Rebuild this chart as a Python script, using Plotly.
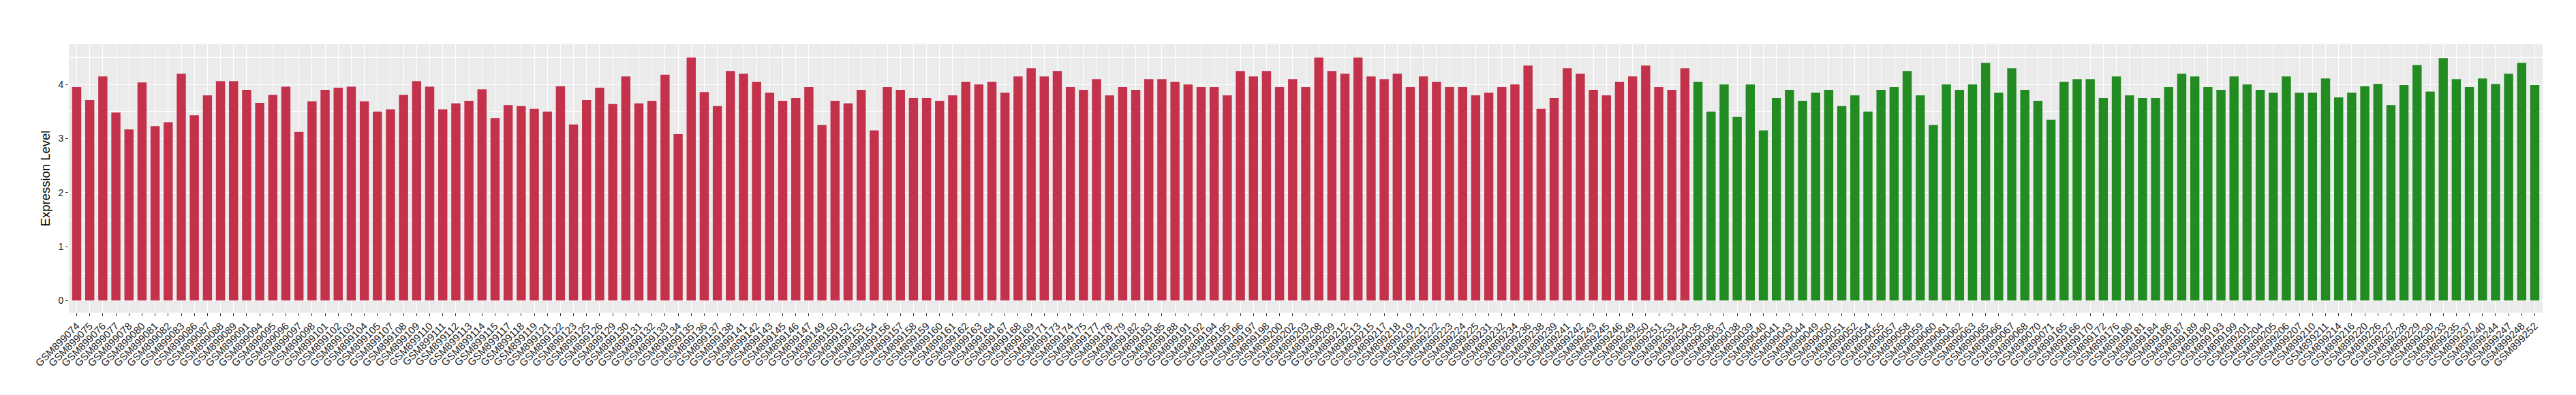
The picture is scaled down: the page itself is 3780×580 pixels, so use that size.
import plotly.graph_objects as go

red_labels = ["GSM8990" + s for s in [
    "74","75","76","77","78","80","81","82","83","86","87","88","89","91","94","95","96","97","98"]] + ["GSM899" + s for s in [
    "101","102","103","104","105","107","108","109","110","111","112","113","114","115","117","118","119","121","122","123",
    "125","126","129","130","131","132","133","134","135","136","137","138","141","142","143","145","146","147","149","150",
    "152","153","154","156","157","158","159","160","161","162","163","164","167","168","169","171","173","174","175",
    "177","178","179","182","183","185","188","191","192","194","195","196","197","198","200","202","203","208","209","212",
    "213","215","217","218","219","221","222","223","224","225","231","232","234","236","238","239","241","242","243","245",
    "246","249","250","251","253","254"]]

red_values = [
    3.95, 3.71, 4.15, 3.48, 3.17, 4.04, 3.23, 3.30, 4.20, 3.43,
    3.80, 4.06, 4.06, 3.90, 3.66, 3.81, 3.96, 3.12, 3.69, 3.90,
    3.94, 3.96, 3.69, 3.50, 3.54, 3.81, 4.06, 3.96, 3.54, 3.65,
    3.70, 3.91, 3.38, 3.62, 3.60, 3.55, 3.50, 3.97, 3.26, 3.71,
    3.94, 3.64, 4.15, 3.65, 3.70, 4.18, 3.08, 4.50, 3.86, 3.60,
    4.25, 4.20, 4.05, 3.85, 3.70, 3.75, 3.95, 3.25, 3.70, 3.65,
    3.90, 3.15, 3.95, 3.90, 3.75, 3.75, 3.70, 3.80, 4.05, 4.00,
    4.05, 3.85, 4.15, 4.30, 4.15, 4.25, 3.95, 3.90, 4.10, 3.80,
    3.95, 3.90, 4.10, 4.10, 4.05, 4.00, 3.95, 3.95, 3.80, 4.25,
    4.15, 4.25, 3.95, 4.10, 3.95, 4.50, 4.25, 4.20, 4.50, 4.15,
    4.10, 4.20, 3.95, 4.15, 4.05, 3.95, 3.95, 3.80, 3.85, 3.95,
    4.00, 4.35, 3.55, 3.75, 4.30, 4.20, 3.90, 3.80, 4.05, 4.15,
    4.35, 3.95, 3.90, 4.30]

green_labels = ["GSM8990" + s for s in [
    "35","36","37","38","39","40","41","43","44","49","50","51","52","54",
    "55","57","58","59","60","61","62","63","65","66","67","68","70","71"]] + ["GSM899" + s for s in [
    "165","166","170","172","176","180",
    "181","184","186","187","189","190","193","199","201","204","205","206","207","210","211",
    "214","216","220","226","227","228","229","230","233","235","237","240","244","247","248","252"]]

green_values = [
    4.05, 3.50, 4.00, 3.40, 4.00, 3.15, 3.75, 3.90, 3.70, 3.85,
    3.90, 3.60, 3.80, 3.50, 3.90, 3.95, 4.25, 3.80, 3.25, 4.00,
    3.90, 4.00, 4.40, 3.85, 4.30, 3.90, 3.70, 3.35, 4.05, 4.10,
    4.10, 3.75, 4.15, 3.80, 3.75, 3.75, 3.95, 4.20, 4.15, 3.95,
    3.90, 4.15, 4.00, 3.90, 3.85, 4.15, 3.85, 3.85,
    4.11, 3.76, 3.85, 3.97, 4.01, 3.62, 3.99, 4.36, 3.87, 4.49,
    4.10, 3.95, 4.11, 4.01, 4.20, 4.40, 3.99]

y_ticks = [0, 1, 2, 3, 4]

RED = "#C3314A"
GREEN = "#228B22"
FONT = "Liberation Sans, Arial, Helvetica, sans-serif"

all_labels = red_labels + green_labels

fig = go.Figure()
fig.add_trace(go.Bar(x=red_labels, y=red_values, marker=dict(color=RED, line=dict(width=0)),
                     showlegend=False, name="red"))
fig.add_trace(go.Bar(x=green_labels, y=green_values, marker=dict(color=GREEN, line=dict(width=0)),
                     showlegend=False, name="green"))

fig.update_layout(
    width=3780, height=580,
    margin=dict(l=93, r=57, t=57, b=129, pad=0),
    paper_bgcolor="white", plot_bgcolor="#EBEBEB",
    barmode="overlay", bargap=0.3,
    font=dict(family=FONT, color="#333333"),
)
fig.update_xaxes(
    type="category", categoryorder="array", categoryarray=all_labels,
    tickmode="array", tickvals=all_labels, ticktext=all_labels,
    tickangle=-45, tickfont=dict(size=15, color="#222222"),
    ticks="outside", ticklen=4, tickcolor="#333333", tickwidth=1,
    showgrid=True, gridcolor="white", gridwidth=1.4,
    range=[-0.6, len(all_labels) - 0.4],
    showline=False, zeroline=False,
)
fig.update_yaxes(
    range=[-0.223, 4.745],
    tickmode="array", tickvals=y_ticks,
    tickfont=dict(size=14, color="#222222"),
    ticks="outside", ticklen=4, tickcolor="#333333", tickwidth=1,
    showgrid=True, gridcolor="white", gridwidth=1.4,
    minor=dict(tickvals=[0.5, 1.5, 2.5, 3.5, 4.5], showgrid=True, gridcolor="white", gridwidth=0.7, ticks=""),
    zeroline=False, showline=False,
    title=dict(text="Expression Level", font=dict(size=18.5, color="black"), standoff=6),
)

fig.write_html("out.html")
